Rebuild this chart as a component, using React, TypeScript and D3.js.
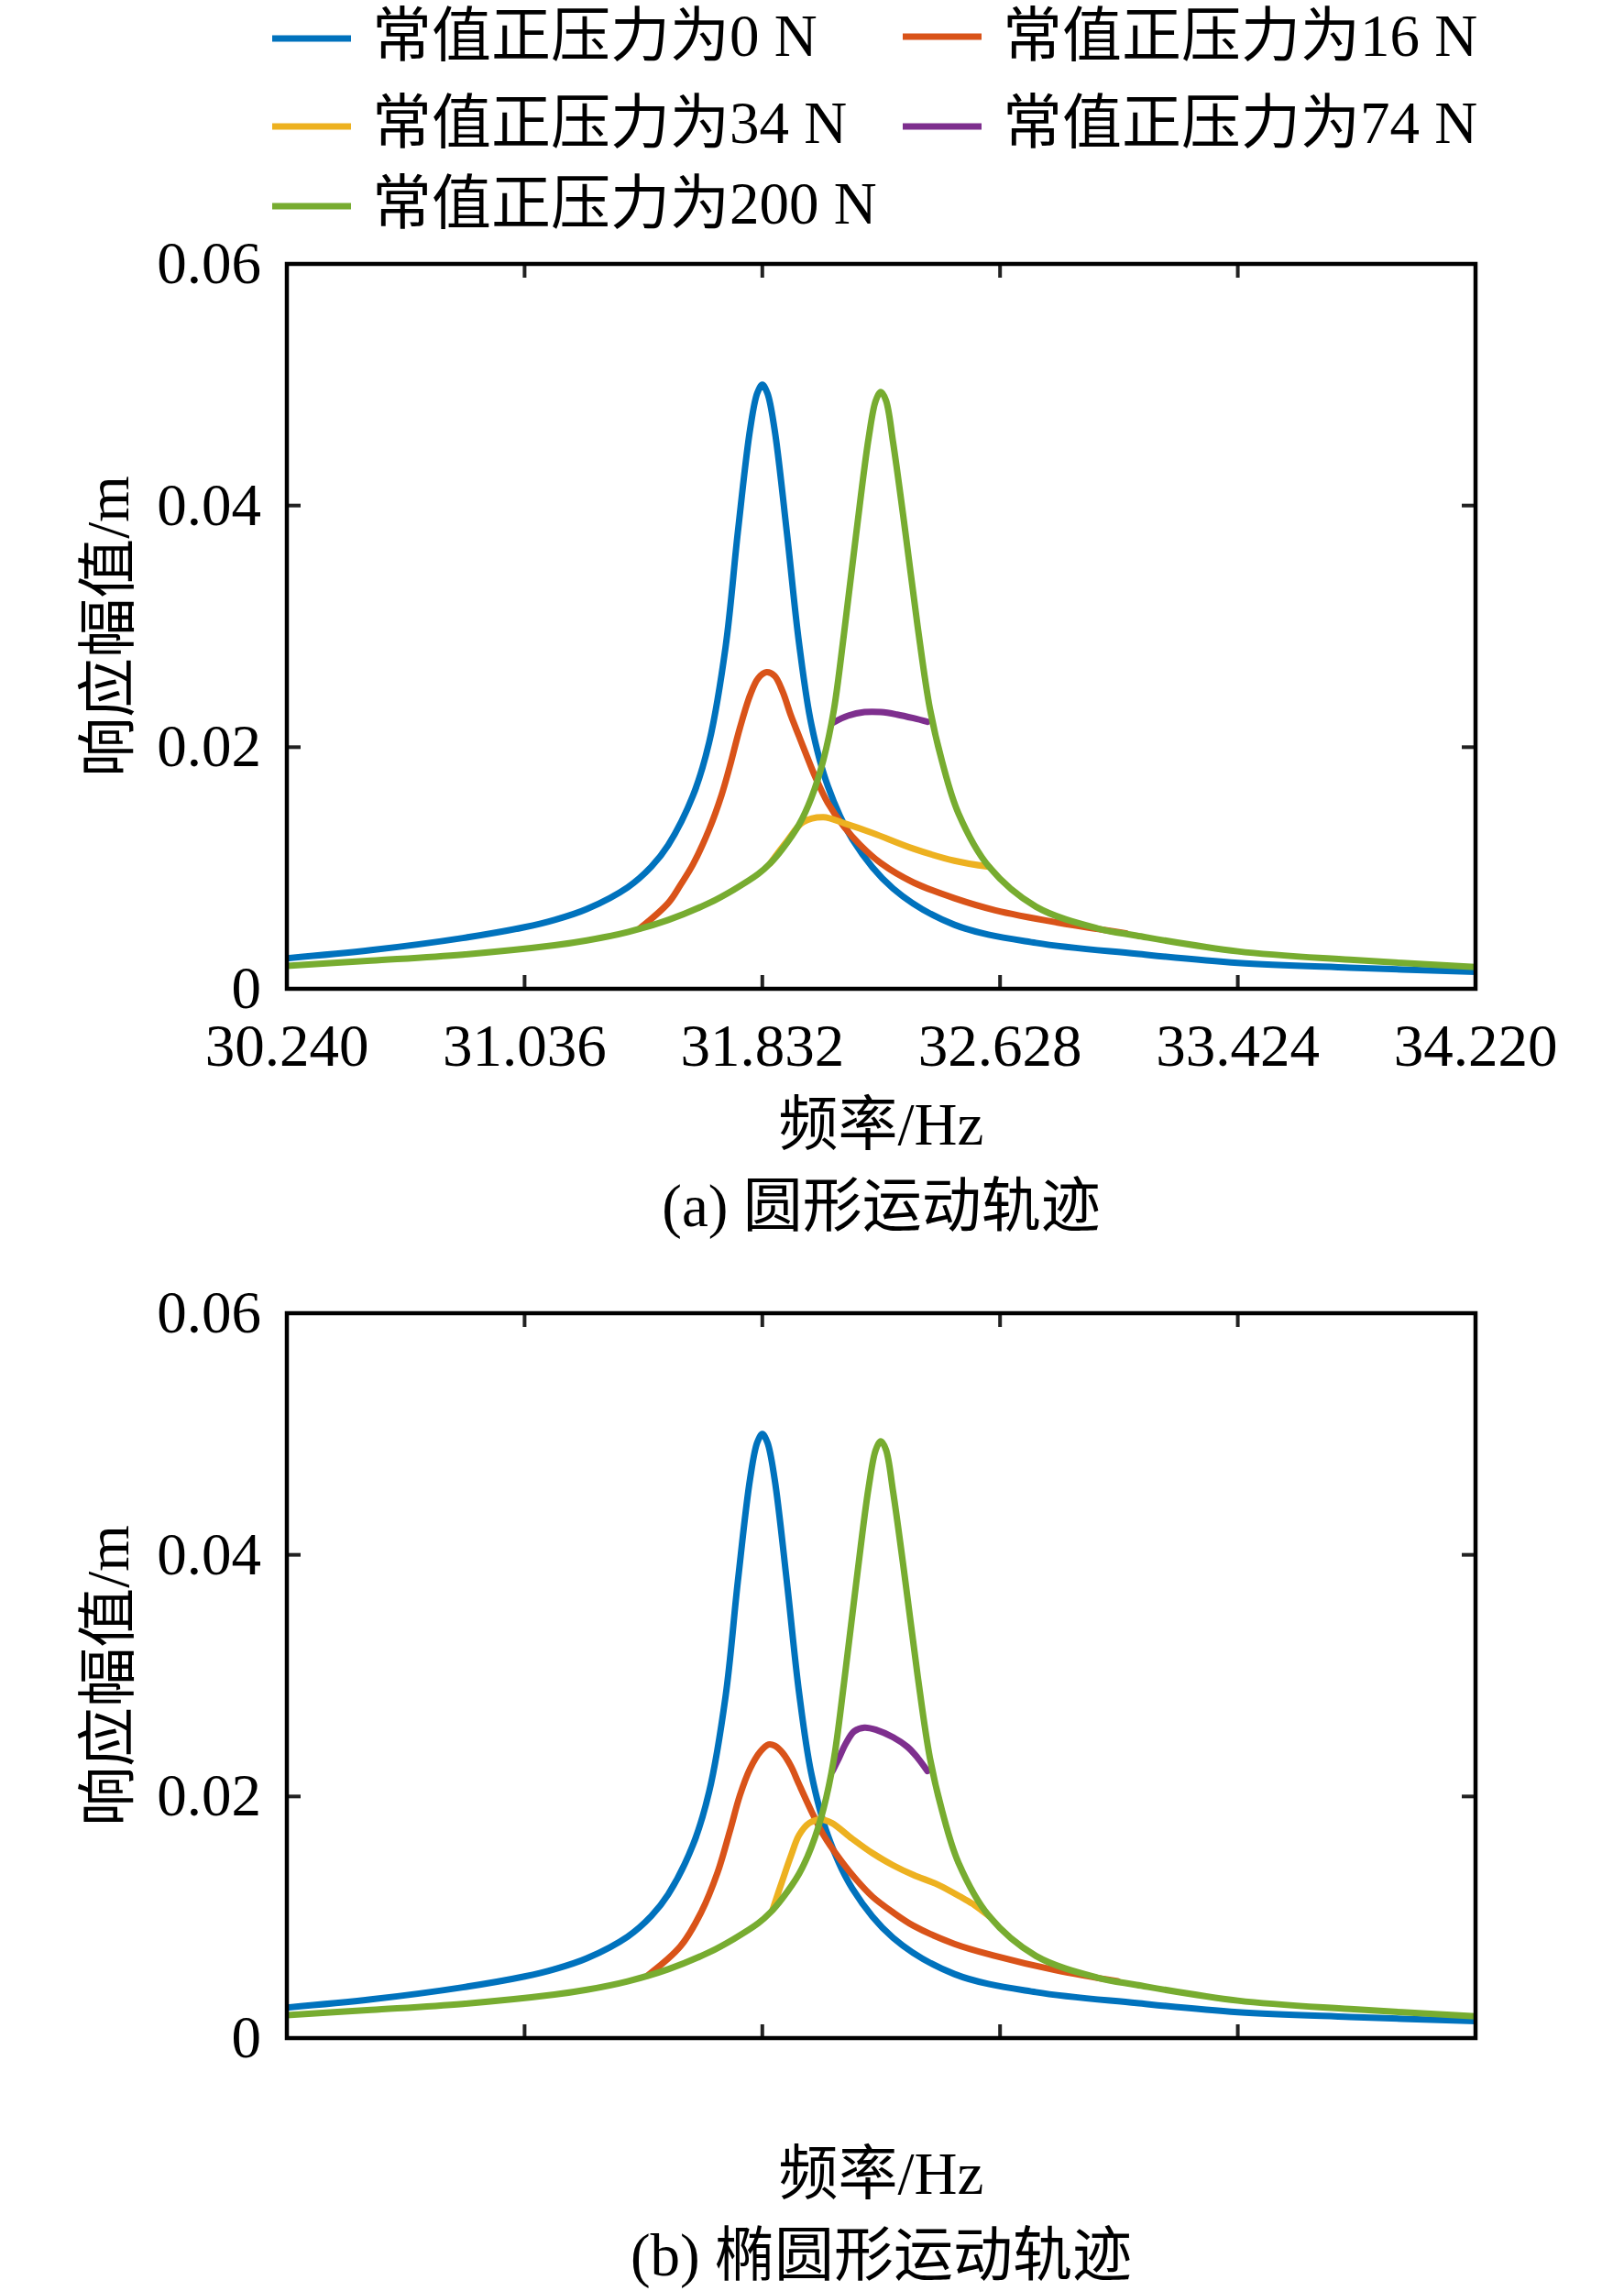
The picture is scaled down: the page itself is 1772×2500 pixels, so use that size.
import React from "react";
import * as d3 from "d3";

type Pt = [number, number];

const X_TICKS = [30.24, 31.036, 31.832, 32.628, 33.424, 34.22];
const X_TICK_LABELS = ["30.240", "31.036", "31.832", "32.628", "33.424", "34.220"];
const Y_TICKS = [0, 0.02, 0.04, 0.06];
const Y_TICK_LABELS = ["0", "0.02", "0.04", "0.06"];
const X_DOMAIN: Pt = [30.24, 34.22];
const Y_DOMAIN: Pt = [0, 0.06];

const SERIES_NAMES = [
  "常值正压力为0 N",
  "常值正压力为16 N",
  "常值正压力为34 N",
  "常值正压力为74 N",
  "常值正压力为200 N",
];
const COLORS = ["#0072BD", "#D95319", "#EDB120", "#7E2F8E", "#77AC30"];

const X_LABEL = "频率/Hz";
const Y_LABEL = "响应幅值/m";
const CAPTIONS = ["(a) 圆形运动轨迹", "(b) 椭圆形运动轨迹"];

// 0 N (same in both panels)
const amp0N: Pt[] = [
  [30.24, 0.00253], [30.522, 0.0032], [30.829, 0.0042], [31.036, 0.0051],
  [31.136, 0.0057], [31.244, 0.0066], [31.381, 0.0084], [31.46, 0.0101],
  [31.517, 0.0119], [31.6, 0.016], [31.654, 0.0204], [31.709, 0.0283],
  [31.75, 0.0378], [31.791, 0.0463], [31.815, 0.0493], [31.832, 0.05],
  [31.849, 0.0493], [31.873, 0.0463], [31.914, 0.0378], [31.955, 0.0286],
  [31.996, 0.0219], [32.051, 0.0168], [32.133, 0.0124], [32.27, 0.0083],
  [32.475, 0.0053], [32.748, 0.0038], [33.085, 0.0029], [33.424, 0.00215],
  [33.8, 0.00175], [34.22, 0.0014],
];

// 200 N (same in both panels)
const amp200N: Pt[] = [
  [30.24, 0.0019], [30.522, 0.00233], [30.829, 0.00283], [31.136, 0.0036],
  [31.244, 0.004], [31.381, 0.0047], [31.517, 0.0057], [31.654, 0.0071],
  [31.736, 0.0082], [31.818, 0.0095], [31.859, 0.0104], [31.9, 0.0116],
  [31.955, 0.0136], [31.996, 0.0158], [32.037, 0.019], [32.071, 0.023],
  [32.105, 0.0293], [32.147, 0.0378], [32.188, 0.0456], [32.212, 0.0487],
  [32.229, 0.0494], [32.246, 0.0487], [32.27, 0.0452], [32.311, 0.0378],
  [32.352, 0.03], [32.393, 0.0232], [32.434, 0.0188], [32.489, 0.0145],
  [32.591, 0.0101], [32.748, 0.0068], [32.954, 0.005], [33.085, 0.0044],
  [33.424, 0.0031], [33.8, 0.0024], [34.22, 0.0018],
];

// Panel (a) circular trajectory
const amp16N_a: Pt[] = [
  [31.422, 0.005], [31.517, 0.0071], [31.558, 0.0086], [31.6, 0.0103],
  [31.654, 0.0132], [31.695, 0.016], [31.723, 0.0184], [31.757, 0.0216],
  [31.791, 0.0243], [31.818, 0.0257], [31.846, 0.0262], [31.873, 0.0259],
  [31.9, 0.0246], [31.928, 0.0226], [31.955, 0.0209], [31.982, 0.0192],
  [32.01, 0.0175], [32.051, 0.0154], [32.106, 0.0134], [32.16, 0.0119],
  [32.229, 0.0104], [32.338, 0.0088], [32.475, 0.0075], [32.612, 0.0065],
  [32.817, 0.0055], [33.049, 0.0046],
];
const amp34N_a: Pt[] = [
  [31.859, 0.0104], [31.914, 0.0122], [31.969, 0.0138], [32.037, 0.0142],
  [32.106, 0.0137], [32.201, 0.0129], [32.338, 0.0116], [32.475, 0.0106],
  [32.591, 0.0101],
];
const amp74N_a: Pt[] = [
  [32.067, 0.022], [32.119, 0.0226], [32.174, 0.0229], [32.229, 0.0229],
  [32.283, 0.0227], [32.338, 0.0224], [32.385, 0.0221],
];

// Panel (b) elliptical trajectory
const amp16N_b: Pt[] = [
  [31.449, 0.0052], [31.558, 0.0076], [31.627, 0.0104], [31.682, 0.0137],
  [31.723, 0.0171], [31.757, 0.0201], [31.791, 0.0223], [31.825, 0.0237],
  [31.853, 0.0243], [31.873, 0.0242], [31.9, 0.0236], [31.928, 0.0225],
  [31.955, 0.021], [31.996, 0.0188], [32.037, 0.0168], [32.092, 0.0148],
  [32.147, 0.0131], [32.201, 0.0117], [32.27, 0.0104], [32.338, 0.0093],
  [32.475, 0.0078], [32.612, 0.0068], [32.817, 0.0056], [33.022, 0.0047],
];
const amp34N_b: Pt[] = [
  [31.866, 0.0106], [31.9, 0.0131], [31.928, 0.0151], [31.955, 0.0168],
  [31.989, 0.0178], [32.03, 0.0181], [32.065, 0.0178], [32.133, 0.0165],
  [32.201, 0.0153], [32.27, 0.0143], [32.338, 0.0135], [32.42, 0.0127],
  [32.502, 0.0116], [32.543, 0.011], [32.591, 0.0101],
];
const amp74N_b: Pt[] = [
  [32.067, 0.0221], [32.089, 0.0232], [32.112, 0.0244], [32.14, 0.0254],
  [32.174, 0.0257], [32.215, 0.0255], [32.27, 0.0249], [32.318, 0.0241],
  [32.352, 0.0232], [32.385, 0.0221],
];

const PANEL_A = [amp0N, amp16N_a, amp34N_a, amp74N_a, amp200N];
const PANEL_B = [amp0N, amp16N_b, amp34N_b, amp74N_b, amp200N];

const FONT = "'Liberation Serif', 'Times New Roman', 'Noto Sans CJK SC', serif";
const FS = 65;
const LEFT = 313;
const RIGHT = 1610;
const PLOT_H = 791;
const TICK = 15;

function Panel({ top, series, showXLabels, caption, id }: {
  top: number; series: Pt[][]; showXLabels: boolean; caption: string; id: string;
}) {
  const bottom = top + PLOT_H;
  const x = d3.scaleLinear().domain(X_DOMAIN).range([LEFT, RIGHT]);
  const y = d3.scaleLinear().domain(Y_DOMAIN).range([bottom, top]);
  const line = d3.line<Pt>().x((d) => x(d[0])).y((d) => y(d[1])).curve(d3.curveCatmullRom.alpha(0.5));
  const cx = (LEFT + RIGHT) / 2;
  return (
    <g>
      <defs>
        <clipPath id={id}>
          <rect x={LEFT} y={top} width={RIGHT - LEFT} height={PLOT_H} />
        </clipPath>
      </defs>
      <g clipPath={`url(#${id})`}>
        {series.map((s, i) => (
          <path key={i} d={line(s) || ""} fill="none" stroke={COLORS[i]} strokeWidth={7}
            strokeLinejoin="round" strokeLinecap="round" />
        ))}
      </g>
      {X_TICKS.map((t, i) => (
        <g key={"xt" + i}>
          <line x1={x(t)} x2={x(t)} y1={bottom} y2={bottom - TICK} stroke="#222" strokeWidth={4} />
          <line x1={x(t)} x2={x(t)} y1={top} y2={top + TICK} stroke="#222" strokeWidth={4} />
          {showXLabels && (
            <text x={x(t)} y={bottom + 84} textAnchor="middle" fontSize={FS} fontFamily={FONT}>
              {X_TICK_LABELS[i]}
            </text>
          )}
        </g>
      ))}
      {Y_TICKS.map((t, i) => (
        <g key={"yt" + i}>
          <line x1={LEFT} x2={LEFT + TICK} y1={y(t)} y2={y(t)} stroke="#222" strokeWidth={4} />
          <line x1={RIGHT} x2={RIGHT - TICK} y1={y(t)} y2={y(t)} stroke="#222" strokeWidth={4} />
          <text x={285} y={y(t) + 21} textAnchor="end" fontSize={FS} fontFamily={FONT}>
            {Y_TICK_LABELS[i]}
          </text>
        </g>
      ))}
      <rect x={LEFT} y={top} width={RIGHT - LEFT} height={PLOT_H} fill="none" stroke="#000" strokeWidth={4.5} />
      <text x={cx} y={bottom + 170} textAnchor="middle" fontSize={FS} fontFamily={FONT}>{X_LABEL}</text>
      <text x={cx} y={bottom + 259} textAnchor="middle" fontSize={FS} fontFamily={FONT}>{caption}</text>
      <text transform={`translate(140, ${(top + bottom) / 2}) rotate(-90)`} textAnchor="middle"
        fontSize={FS} fontFamily={FONT}>{Y_LABEL}</text>
    </g>
  );
}

const LEGEND_POS: { lx: number; ly: number; ty: number }[] = [
  { lx: 297, ly: 42, ty: 61 },
  { lx: 985, ly: 40, ty: 61 },
  { lx: 297, ly: 138, ty: 156 },
  { lx: 985, ly: 138, ty: 156 },
  { lx: 297, ly: 225, ty: 244 },
];

export default function App() {
  return (
    <svg width={1772} height={2500} viewBox="0 0 1772 2500"
      style={{ position: "absolute", left: 0, top: 0, background: "#fff" }}>
      <rect width={1772} height={2500} fill="#fff" />
      {SERIES_NAMES.map((name, i) => {
        const p = LEGEND_POS[i];
        return (
          <g key={i}>
            <line x1={p.lx} x2={p.lx + 86} y1={p.ly} y2={p.ly} stroke={COLORS[i]} strokeWidth={7} />
            <text x={p.lx + 109} y={p.ty} fontSize={FS} fontFamily={FONT}>{name}</text>
          </g>
        );
      })}
      <Panel top={288} series={PANEL_A} showXLabels={true} caption={CAPTIONS[0]} id="clipA" />
      <Panel top={1433} series={PANEL_B} showXLabels={false} caption={CAPTIONS[1]} id="clipB" />
    </svg>
  );
}
